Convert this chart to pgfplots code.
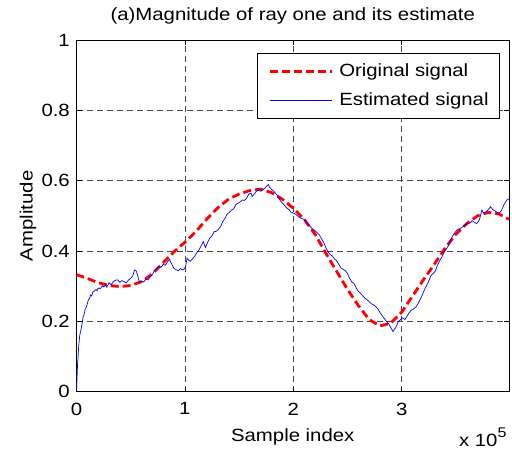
\documentclass[border=0pt]{standalone}
\usepackage{fontspec}
\setmainfont{Liberation Sans}[FakeStretch=1.15]
\usepackage{pgfplots}
\pgfplotsset{compat=1.18}

\begin{document}
\fontsize{17.7}{21}\selectfont
\begin{tikzpicture}
\begin{axis}[name=ax, scale only axis, width=432.5pt, height=351.7pt,
  xmin=0, xmax=3.99, ymin=0, ymax=1,
  xtick={0,1,2,3}, xticklabels={0,1,2,3},
  ytick={0,0.2,0.4,0.6,0.8,1}, yticklabels={0,0.2,0.4,0.6,0.8,1},
  tick align=inside, major tick length=5pt,
  tick style={black, line width=0.6pt},
  xmajorgrids, ymajorgrids,
  grid style={black!72, dash pattern=on 6pt off 4pt, line width=0.6pt},
  axis line style={black, line width=0.6pt},
  /pgf/number format/assume math mode=true,
  xticklabel style={yshift=-5pt},
  yticklabel style={xshift=-0.6pt},
  title={(a)Magnitude of ray one and its estimate},
  title style={at={(axis description cs:0.5,1)}, anchor=base, yshift=14pt, inner sep=0pt},
  xlabel={Sample index},
  xlabel style={at={(axis description cs:0.5,0)}, anchor=base, yshift=-50pt, inner sep=0pt},
  ylabel={Amplitude},
  ylabel style={at={(axis description cs:-0.1017,0.5)}, anchor=base, inner sep=0pt},
  legend cell align=left,
  legend style={at={(axis description cs:0.979,0.962)}, anchor=north east,
    draw=black, line width=0.6pt, fill=white, inner xsep=11pt, inner ysep=10pt,
    row sep=13.6pt, nodes={inner sep=0pt},
    /tikz/every odd column/.append style={column sep=6.3pt}},
  legend image code/.code={\draw[#1] (0pt,0pt) -- (62pt,0pt);},
]
\addplot[red, line width=2.8pt, dash pattern=on 8pt off 4pt] coordinates {
(0,0.333) (0.1,0.322) (0.2,0.310) (0.3,0.302) (0.4,0.299) (0.5,0.302)
(0.6,0.313) (0.7,0.335) (0.8,0.367) (0.9,0.398) (1.0,0.425) (1.1,0.455)
(1.2,0.490) (1.3,0.522) (1.4,0.547) (1.5,0.562) (1.6,0.572) (1.7,0.576)
(1.8,0.566) (1.9,0.547) (2.0,0.522) (2.1,0.490) (2.2,0.448) (2.3,0.394)
(2.4,0.342) (2.5,0.291) (2.6,0.245) (2.7,0.205) (2.8,0.187) (2.9,0.195)
(3.0,0.226) (3.1,0.272) (3.2,0.318) (3.3,0.362) (3.4,0.408) (3.5,0.448)
(3.6,0.478) (3.7,0.500) (3.8,0.510) (3.9,0.505) (3.99,0.490)
};
\addlegendentry{Original signal}
\addplot[blue, line width=0.7pt] coordinates {
(0,0.0) (0.005,0.04) (0.01,0.08) (0.015,0.1) (0.02,0.13) (0.03,0.16) (0.04,0.175)
(0.05,0.19) (0.06,0.212) (0.07,0.22) (0.08,0.235) (0.09,0.24) (0.10,0.25)
(0.11,0.262) (0.12,0.265) (0.13,0.275) (0.14,0.272) (0.15,0.283) (0.16,0.285)
(0.18,0.29) (0.19,0.287) (0.2,0.295) (0.22,0.293) (0.24,0.302) (0.25,0.298)
(0.27,0.303) (0.28,0.297) (0.3,0.31) (0.32,0.304) (0.34,0.313) (0.36,0.317)
(0.38,0.318) (0.4,0.311) (0.42,0.316) (0.44,0.313) (0.46,0.309) (0.48,0.318)
(0.5,0.322) (0.52,0.33) (0.535,0.346) (0.55,0.344) (0.565,0.33) (0.58,0.311)
(0.6,0.315) (0.62,0.312) (0.64,0.32) (0.66,0.318) (0.68,0.327) (0.7,0.333)
(0.72,0.345) (0.74,0.35) (0.76,0.356) (0.78,0.354) (0.8,0.362) (0.82,0.36)
(0.84,0.37) (0.86,0.376) (0.87,0.368) (0.88,0.362) (0.9,0.35) (0.92,0.347)
(0.94,0.344) (0.96,0.35) (0.98,0.346) (1.0,0.352) (1.01,0.362) (1.02,0.38)
(1.035,0.374) (1.05,0.371) (1.07,0.378) (1.09,0.385) (1.11,0.395) (1.13,0.403)
(1.15,0.415) (1.17,0.427) (1.18,0.418) (1.19,0.41) (1.21,0.425) (1.23,0.437)
(1.25,0.443) (1.27,0.455) (1.29,0.456) (1.31,0.462) (1.33,0.47) (1.35,0.484)
(1.37,0.493) (1.39,0.505) (1.41,0.51) (1.43,0.516) (1.45,0.52) (1.47,0.532)
(1.49,0.536) (1.51,0.54) (1.53,0.545) (1.55,0.544) (1.57,0.55) (1.59,0.562)
(1.61,0.565) (1.62,0.555) (1.64,0.562) (1.66,0.57) (1.68,0.575) (1.70,0.57)
(1.72,0.574) (1.74,0.58) (1.76,0.586) (1.77,0.589) (1.78,0.582) (1.80,0.575)
(1.82,0.57) (1.84,0.563) (1.86,0.555) (1.88,0.543) (1.90,0.536) (1.92,0.53)
(1.94,0.522) (1.96,0.518) (1.98,0.51) (2.0,0.508) (2.02,0.505) (2.04,0.5)
(2.06,0.495) (2.08,0.492) (2.10,0.49) (2.12,0.484) (2.14,0.475) (2.16,0.468)
(2.18,0.462) (2.20,0.458) (2.22,0.452) (2.24,0.446) (2.26,0.435) (2.28,0.425)
(2.30,0.41) (2.32,0.398) (2.34,0.39) (2.36,0.386) (2.38,0.378) (2.40,0.372)
(2.42,0.362) (2.44,0.352) (2.46,0.348) (2.48,0.344) (2.50,0.336) (2.52,0.322)
(2.54,0.312) (2.56,0.308) (2.58,0.295) (2.60,0.285) (2.62,0.28) (2.64,0.273)
(2.66,0.266) (2.68,0.262) (2.70,0.256) (2.72,0.25) (2.74,0.247) (2.76,0.242)
(2.78,0.236) (2.80,0.225) (2.82,0.216) (2.84,0.208) (2.86,0.2) (2.88,0.193)
(2.90,0.182) (2.92,0.171) (2.93,0.176) (2.95,0.185) (2.97,0.2) (2.99,0.205)
(3.01,0.21) (3.03,0.205) (3.05,0.215) (3.07,0.225) (3.09,0.232) (3.11,0.236)
(3.13,0.24) (3.15,0.25) (3.17,0.262) (3.19,0.275) (3.21,0.29) (3.23,0.302)
(3.25,0.315) (3.27,0.33) (3.29,0.336) (3.31,0.343) (3.33,0.36) (3.35,0.372)
(3.37,0.383) (3.39,0.395) (3.41,0.405) (3.43,0.415) (3.45,0.43) (3.47,0.443)
(3.49,0.452) (3.51,0.46) (3.53,0.463) (3.55,0.466) (3.57,0.47) (3.59,0.475)
(3.61,0.478) (3.63,0.48) (3.65,0.486) (3.67,0.482) (3.69,0.478) (3.71,0.485)
(3.72,0.492) (3.73,0.505) (3.74,0.517) (3.75,0.51) (3.77,0.508) (3.79,0.515)
(3.81,0.522) (3.82,0.526) (3.84,0.518) (3.86,0.514) (3.88,0.51) (3.90,0.508)
(3.92,0.515) (3.93,0.522) (3.94,0.53) (3.96,0.54) (3.97,0.545) (3.99,0.548)
};
\addlegendentry{Estimated signal}
\end{axis}
\node[anchor=base east, inner sep=0pt] at ([shift={(-2.3pt,-55pt)}]ax.south east) {x 10\raisebox{9pt}{\fontsize{14}{14}\selectfont 5}};
\pgfresetboundingbox
\path ([shift={(-76.5pt,-67.3pt)}]ax.south west) rectangle ([shift={(3pt,40pt)}]ax.north east);
\end{tikzpicture}
\end{document}
